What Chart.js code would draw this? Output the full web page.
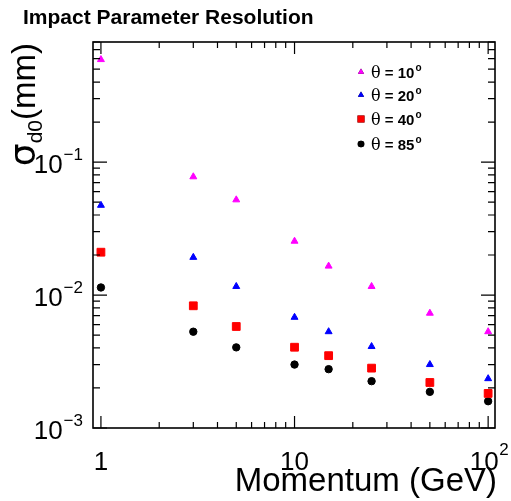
<!DOCTYPE html>
<html>
<head>
<meta charset="utf-8">
<script src="https://cdn.jsdelivr.net/npm/chart.js@4/dist/chart.umd.min.js"></script>
<style>
  html, body { margin: 0; padding: 0; background: #fff; }
  #wrap { width: 511px; height: 501px; }
</style>
</head>
<body>
<div id="wrap"><canvas id="myChart" width="511" height="501"></canvas></div>
<script>
// Datas
const momentum = [1, 3, 5, 10, 15, 25, 50, 100];
const theta10 = [0.59, 0.0775, 0.052, 0.0254, 0.0165, 0.0116, 0.0073, 0.0053];
const theta20 = [0.0473, 0.0192, 0.0116, 0.0068, 0.0053, 0.0041, 0.0030, 0.00235];
const theta40 = [0.021, 0.0083, 0.0058, 0.00405, 0.0035, 0.00282, 0.0022, 0.00182];
const theta85 = [0.0114, 0.0053, 0.00404, 0.0030, 0.00277, 0.00225, 0.00187, 0.00159];
const seriesNames = ['10', '20', '40', '85'];
const xTicks = [1, 10, 100];
const yTicks = [0.001, 0.01, 0.1];

const toPoints = ys => momentum.map((x, i) => ({ x: x, y: ys[i] }));
const SANS = '"Liberation Sans", Arial, sans-serif';

// axes, ticks, labels and legend drawn ROOT style
const rootStyle = {
    id: 'rootStyle',
    afterDraw(chart) {
        const ctx = chart.ctx;
        const a = chart.chartArea;
        const xs = chart.scales.x, ys = chart.scales.y;
        ctx.save();
        ctx.strokeStyle = '#000';
        ctx.lineWidth = 1.6;
        ctx.strokeRect(a.left, a.top, a.right - a.left, a.bottom - a.top);

        ctx.lineWidth = 1.2;
        ctx.beginPath();
        // x ticks
        for (let d = 0; d <= 2; d++) {
            for (let m = 1; m <= 9; m++) {
                const v = m * Math.pow(10, d);
                if (v < xs.min || v > xs.max) continue;
                const px = xs.getPixelForValue(v);
                const len = m === 1 ? 12 : 6;
                ctx.moveTo(px, a.bottom); ctx.lineTo(px, a.bottom - len);
                ctx.moveTo(px, a.top); ctx.lineTo(px, a.top + len);
            }
        }
        // y ticks
        for (let d = -3; d <= -1; d++) {
            for (let m = 1; m <= 9; m++) {
                const v = m * Math.pow(10, d);
                if (v < ys.min || v > ys.max) continue;
                const py = ys.getPixelForValue(v);
                const len = m === 1 ? 14 : 7;
                ctx.moveTo(a.left, py); ctx.lineTo(a.left + len, py);
                ctx.moveTo(a.right, py); ctx.lineTo(a.right - len, py);
            }
        }
        ctx.stroke();

        ctx.fillStyle = '#000';
        ctx.textBaseline = 'alphabetic';
        // x tick labels
        xTicks.forEach(v => {
            const px = xs.getPixelForValue(v);
            ctx.font = '26px ' + SANS;
            if (v === 1) { ctx.textAlign = 'center'; ctx.fillText('1', px, 470); }
            else if (v === 10) { ctx.textAlign = 'center'; ctx.fillText('10', px, 470); }
            else {
                ctx.textAlign = 'center'; ctx.fillText('10', px - 4, 470);
                ctx.font = '17px ' + SANS;
                ctx.textAlign = 'left'; ctx.fillText('2', px + 11, 455);
            }
        });
        // y tick labels
        yTicks.forEach(v => {
            const py = ys.getPixelForValue(v);
            const exp = '\u2212' + Math.round(-Math.log10(v));
            ctx.font = '17px ' + SANS;
            ctx.textAlign = 'right';
            ctx.fillText(exp, 83, py - 2);
            const ew = ctx.measureText(exp).width;
            ctx.font = '26px ' + SANS;
            ctx.fillText('10', 82 - ew, py + 11);
        });

        // axis titles
        ctx.font = '33px ' + SANS;
        ctx.textAlign = 'right';
        ctx.fillText('Momentum (GeV)', 497, 491);

        ctx.save();
        ctx.translate(35, 43);
        ctx.rotate(-Math.PI / 2);
        ctx.textAlign = 'right';
        ctx.font = '33px ' + SANS;
        ctx.fillText('(mm)', 0, 0);
        let w = ctx.measureText('(mm)').width;
        ctx.font = '21px ' + SANS;
        ctx.fillText('d0', -w, 7);
        w += ctx.measureText('d0').width;
        ctx.font = '36px "DejaVu Sans", sans-serif';
        ctx.fillText('\u03c3', -w, 0);
        ctx.restore();

        // title
        ctx.font = 'bold 21px ' + SANS;
        ctx.textAlign = 'left';
        ctx.fillText('Impact Parameter Resolution', 23, 24);

        // legend
        const rows = [72, 95, 119, 144];
        chart.data.datasets.forEach((ds, i) => {
            const y = rows[i];
            Chart.helpers.drawPoint(ctx, {
                pointStyle: ds.pointStyle, radius: ds.pointRadius * 0.9, rotation: 0
            }, 361, y);
            ctx.fillStyle = ds.backgroundColor;
            ctx.fill();
            ctx.fillStyle = '#000';
            ctx.font = '16px "DejaVu Serif", serif';
            ctx.textAlign = 'left';
            ctx.fillText('\u03b8', 371, y + 6);
            let tx = 371 + ctx.measureText('\u03b8').width;
            ctx.font = 'bold 15px ' + SANS;
            const t = ' = ' + seriesNames[i];
            ctx.fillText(t, tx, y + 6);
            tx += ctx.measureText(t).width + 1;
            ctx.font = 'bold 10px ' + SANS;
            ctx.fillText('o', tx, y - 1);
        });
        ctx.restore();
    }
};

const myChart = new Chart('myChart', {
    type: 'scatter',
    data: {
        datasets: [{
            label: 'theta = 10',
            data: toPoints(theta10),
            backgroundColor: '#ff00ff',
            borderColor: '#ff00ff',
            pointStyle: 'triangle',
            pointRadius: 4
        },
        {
            label: 'theta = 20',
            data: toPoints(theta20),
            backgroundColor: '#0000ff',
            borderColor: '#0000ff',
            pointStyle: 'triangle',
            pointRadius: 4
        },
        {
            label: 'theta = 40',
            data: toPoints(theta40),
            backgroundColor: '#ff0000',
            borderColor: '#ff0000',
            pointStyle: 'rect',
            pointRadius: 5.5
        },
        {
            label: 'theta = 85',
            data: toPoints(theta85),
            backgroundColor: '#000000',
            borderColor: '#000000',
            pointStyle: 'circle',
            pointRadius: 3.7
        }]
    },
    options: {
        responsive: false,
        animation: false,
        layout: { padding: { left: 93, right: 16, top: 42, bottom: 73 } },
        plugins: { legend: { display: false }, tooltip: { enabled: false } },
        scales: {
            x: { type: 'logarithmic', min: 0.91, max: 108.5, display: false },
            y: { type: 'logarithmic', min: 0.001, max: 0.8, display: false }
        }
    },
    plugins: [rootStyle]
});
</script>
</body>
</html>
